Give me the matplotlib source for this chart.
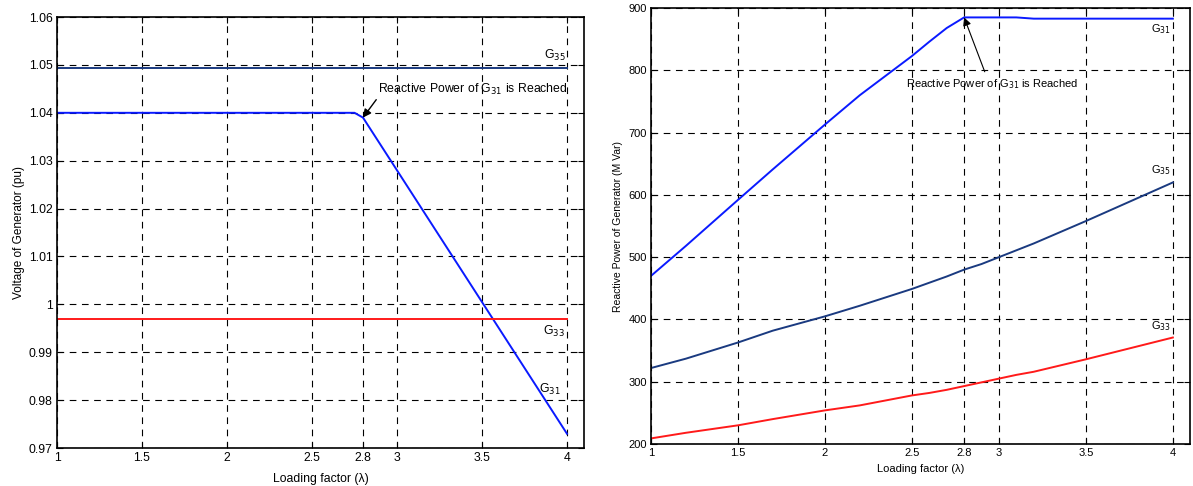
import matplotlib.pyplot as plt
import numpy as np

plt.rcParams['font.family'] = ['Liberation Sans', 'DejaVu Sans']
plt.rcParams['font.size'] = 8

# left panel: generator voltages (pu)
lam_v = [1.0, 1.5, 2.0, 2.5, 2.75, 2.8, 3.0, 3.5, 4.0]
v_g35 = [1.0494] * 9
v_g31 = [1.040, 1.040, 1.040, 1.040, 1.040, 1.039, 1.028, 1.0005, 0.973]
v_g33 = [0.997] * 9

# right panel: generator reactive power (MVar)
lam_q = [1.0, 1.2, 1.5, 1.7, 2.0, 2.2, 2.5, 2.6, 2.7, 2.8, 2.9, 3.0, 3.1, 3.2, 3.5, 4.0]
q_g31 = [470, 518, 592, 641, 713, 760, 823, 846, 868, 885, 885, 885, 885, 883, 883, 883]
q_g35 = [322, 337, 363, 382, 405, 422, 449, 459, 469, 480, 489, 500, 511, 522, 558, 620]
q_g33 = [209, 218, 230, 240, 254, 262, 278, 282, 287, 293, 299, 305, 311, 316, 336, 371]

xticks = [1, 1.5, 2, 2.5, 2.8, 3, 3.5, 4]
xticklabels = ['1', '1.5', '2', '2.5', '2.8', '3', '3.5', '4']

navy = '#1a3a80'
blue = '#0a1aff'
red = '#ff1a1a'

fig = plt.figure(figsize=(11.93, 4.86), dpi=100, facecolor='white')
ax1 = fig.add_axes([0.0478, 0.078, 0.4417, 0.887])
ax2 = fig.add_axes([0.5457, 0.0864, 0.452, 0.897])


def style(ax, fs, pad):
    ax.set_xlim(1, 4.1)
    ax.set_xticks(xticks)
    ax.set_xticklabels(xticklabels)
    ax.grid(True, color='black', linestyle=(0, (6, 5)), linewidth=0.8)
    ax.tick_params(direction='in', top=True, right=True, length=4, pad=3,
                   labelsize=fs)
    for s in ax.spines.values():
        s.set_linewidth(1.2)
    ax.set_xlabel('Loading factor (\u03bb)', labelpad=pad, fontsize=fs)


ax1.plot(lam_v, v_g35, color=navy, lw=1.4)
ax1.plot(lam_v, v_g31, color=blue, lw=1.4)
ax1.plot(lam_v, v_g33, color=red, lw=1.4)
style(ax1, 8.8, 6)
ax1.set_ylim(0.97, 1.06)
yt = np.round(np.arange(0.97, 1.0601, 0.01), 2)
ax1.set_yticks(yt)
ax1.set_yticklabels([('%g' % v) for v in yt])
ax1.set_ylabel('Voltage of Generator (pu)', labelpad=3, fontsize=8.5)
ax1.text(3.99, 1.0505, 'G$_{35}$', ha='right', va='bottom', fontsize=8.8)
ax1.text(3.99, 0.9960, 'G$_{33}$', ha='right', va='top', fontsize=8.8)
ax1.text(3.96, 0.9822, 'G$_{31}$', ha='right', va='center', fontsize=8.8)
ax1.annotate('Reactive Power of G$_{31}$ is Reached', xy=(2.8, 1.039),
             xytext=(2.89, 1.0449), ha='left', va='center', fontsize=8.8,
             arrowprops=dict(arrowstyle='-|>', color='black', lw=1.0,
                             relpos=(0, 0), shrinkA=0, shrinkB=0,
                             mutation_scale=12))

ax2.plot(lam_q, q_g31, color=blue, lw=1.4)
ax2.plot(lam_q, q_g35, color=navy, lw=1.4)
ax2.plot(lam_q, q_g33, color=red, lw=1.4)
style(ax2, 8, 4)
ax2.set_ylim(200, 900)
ax2.set_yticks(range(200, 901, 100))
ax2.set_ylabel('Reactive Power of Generator (M Var)', labelpad=4, fontsize=7.5)
ax2.text(3.99, 878, 'G$_{31}$', ha='right', va='top')
ax2.text(3.99, 628, 'G$_{35}$', ha='right', va='bottom')
ax2.text(3.99, 378, 'G$_{33}$', ha='right', va='bottom')
ax2.annotate('Reactive Power of G$_{31}$ is Reached', xy=(2.8, 885),
             xytext=(2.96, 778), ha='center', va='center',
             arrowprops=dict(arrowstyle='-|>', color='black', lw=0.8,
                             relpos=(0.47, 1), shrinkA=2, shrinkB=0,
                             mutation_scale=12))

fig.savefig('out.png', dpi=100, facecolor='white')
